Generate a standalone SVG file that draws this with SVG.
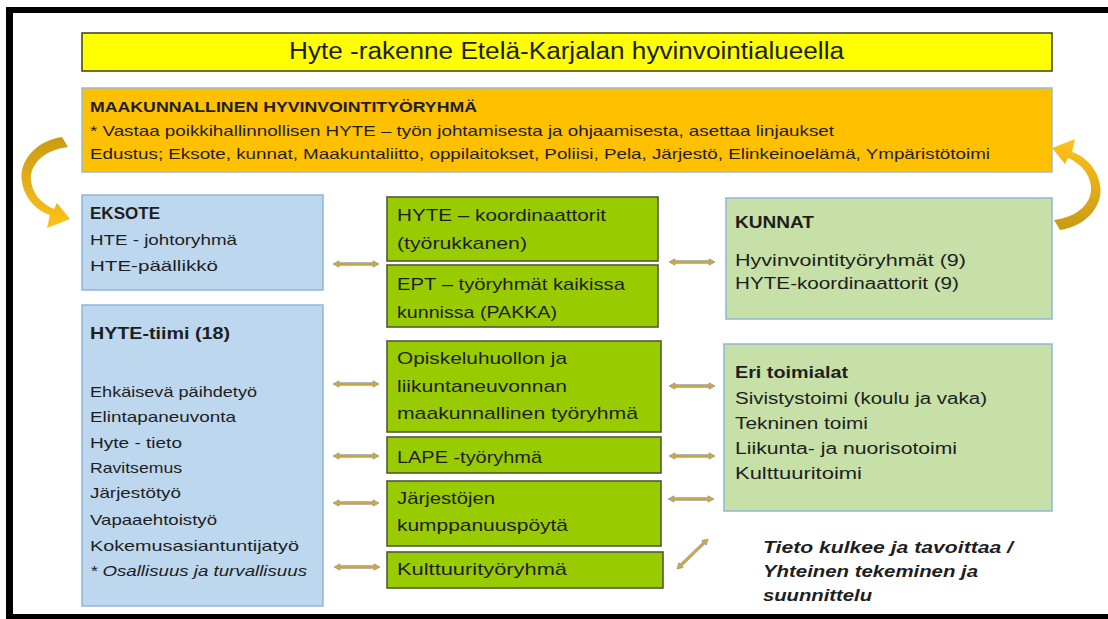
<svg xmlns="http://www.w3.org/2000/svg" xmlns:xlink="http://www.w3.org/1999/xlink" width="1108" height="619" viewBox="0 0 1108 619">
<style>
.t{font-family:"Liberation Sans",Arial,sans-serif;fill:#1e1e1e;}
.b{font-weight:bold;}
.i{font-style:italic;}
.blue{fill:#bdd7ee;stroke:#8fb6da;stroke-width:1.5;}
.lg{fill:#c6e0a8;stroke:#8fb6da;stroke-width:1.5;}
.gr{fill:#99cc00;stroke:#4f5a3a;stroke-width:1.6;}
.arr{fill:#d6a832;stroke:#8e9a9e;stroke-width:0.8;}
</style>
<defs>
<path id="dbl" class="arr" d="M-23,0 L-17,-3.2 L-17,-1.3 L17,-1.3 L17,-3.2 L23,0 L17,3.2 L17,1.3 L-17,1.3 L-17,3.2 Z"/>
<linearGradient id="cg" x1="0" y1="0" x2="0" y2="1">
<stop offset="0" stop-color="#c99a12"/>
<stop offset="1" stop-color="#ffc21a"/>
</linearGradient>
<path id="curve" fill="url(#cg)" d="M62,137 C38,140 18,160 22,182 C25,200 38,211 50,215 L47,228 L70,219 L57,203 L54,209 C42,204 32,194 31,180 C30,163 45,150 68,147 Z"/>
</defs>
<rect x="0" y="0" width="1108" height="619" fill="#ffffff"/>
<g id="frame" fill="#000">
<rect x="6" y="7" width="1102" height="6"/>
<rect x="6" y="7" width="7" height="612"/>
<rect x="6" y="614" width="1102" height="5"/>
</g>
<g id="title">
<rect x="82" y="33" width="970" height="38" fill="#ffff00" stroke="#3e3e20" stroke-width="1.5"/>
<text class="t" x="289" y="59" font-size="23" textLength="555" lengthAdjust="spacingAndGlyphs">Hyte -rakenne Etelä-Karjalan hyvinvointialueella</text>
</g>
<g id="maakunnallinen">
<rect x="82" y="88" width="970" height="84" fill="#ffc000" stroke="#9bbccc" stroke-width="1.5"/>
<text class="t b" x="90" y="112" font-size="15" textLength="387" lengthAdjust="spacingAndGlyphs">MAAKUNNALLINEN HYVINVOINTITYÖRYHMÄ</text>
<text class="t" x="90" y="136" font-size="15" textLength="744" lengthAdjust="spacingAndGlyphs">* Vastaa poikkihallinnollisen HYTE – työn johtamisesta ja ohjaamisesta, asettaa linjaukset</text>
<text class="t" x="90" y="159" font-size="15" textLength="900" lengthAdjust="spacingAndGlyphs">Edustus; Eksote, kunnat, Maakuntaliitto, oppilaitokset, Poliisi, Pela, Järjestö, Elinkeinoelämä, Ympäristötoimi</text>
</g>
<g id="eksote">
<rect class="blue" x="82" y="195" width="241" height="95"/>
<text class="t b" x="90" y="219" font-size="16" textLength="70" lengthAdjust="spacingAndGlyphs">EKSOTE</text>
<text class="t" x="90" y="245" font-size="15" textLength="147" lengthAdjust="spacingAndGlyphs">HTE - johtoryhmä</text>
<text class="t" x="90" y="271" font-size="15" textLength="128" lengthAdjust="spacingAndGlyphs">HTE-päällikkö</text>
</g>
<g id="hyte-tiimi">
<rect class="blue" x="82" y="305" width="241" height="301"/>
<text class="t b" x="90" y="339" font-size="16" textLength="140" lengthAdjust="spacingAndGlyphs">HYTE-tiimi (18)</text>
<text class="t" x="90" y="397" font-size="15" textLength="167" lengthAdjust="spacingAndGlyphs">Ehkäisevä päihdetyö</text>
<text class="t" x="90" y="422" font-size="15" textLength="146" lengthAdjust="spacingAndGlyphs">Elintapaneuvonta</text>
<text class="t" x="90" y="448" font-size="15" textLength="92" lengthAdjust="spacingAndGlyphs">Hyte - tieto</text>
<text class="t" x="90" y="473" font-size="15" textLength="92" lengthAdjust="spacingAndGlyphs">Ravitsemus</text>
<text class="t" x="90" y="498" font-size="15" textLength="91" lengthAdjust="spacingAndGlyphs">Järjestötyö</text>
<text class="t" x="90" y="525" font-size="15" textLength="127" lengthAdjust="spacingAndGlyphs">Vapaaehtoistyö</text>
<text class="t" x="90" y="551" font-size="15" textLength="209" lengthAdjust="spacingAndGlyphs">Kokemusasiantuntijatyö</text>
<text class="t i" x="90" y="576" font-size="15" textLength="217" lengthAdjust="spacingAndGlyphs">* Osallisuus ja turvallisuus</text>
</g>
<g id="koordinaattorit">
<rect class="gr" x="387" y="197" width="271" height="64"/>
<text class="t" x="397" y="221" font-size="17" textLength="209" lengthAdjust="spacingAndGlyphs">HYTE – koordinaattorit</text>
<text class="t" x="397" y="249" font-size="17" textLength="130" lengthAdjust="spacingAndGlyphs">(työrukkanen)</text>
</g>
<g id="ept">
<rect class="gr" x="387" y="265" width="271" height="62"/>
<text class="t" x="397" y="290" font-size="17" textLength="228" lengthAdjust="spacingAndGlyphs">EPT – työryhmät kaikissa</text>
<text class="t" x="397" y="318" font-size="17" textLength="160" lengthAdjust="spacingAndGlyphs">kunnissa (PAKKA)</text>
</g>
<g id="opiskeluhuolto">
<rect class="gr" x="387" y="341" width="274" height="91"/>
<text class="t" x="397" y="364" font-size="17" textLength="170" lengthAdjust="spacingAndGlyphs">Opiskeluhuollon ja</text>
<text class="t" x="397" y="392" font-size="17" textLength="170" lengthAdjust="spacingAndGlyphs">liikuntaneuvonnan</text>
<text class="t" x="397" y="419" font-size="17" textLength="241" lengthAdjust="spacingAndGlyphs">maakunnallinen työryhmä</text>
</g>
<g id="lape">
<rect class="gr" x="387" y="437" width="274" height="36"/>
<text class="t" x="397" y="463" font-size="17" textLength="145" lengthAdjust="spacingAndGlyphs">LAPE -työryhmä</text>
</g>
<g id="jarjestot">
<rect class="gr" x="387" y="481" width="274" height="65"/>
<text class="t" x="397" y="504" font-size="17" textLength="98" lengthAdjust="spacingAndGlyphs">Järjestöjen</text>
<text class="t" x="397" y="531" font-size="17" textLength="171" lengthAdjust="spacingAndGlyphs">kumppanuuspöytä</text>
</g>
<g id="kulttuuri">
<rect class="gr" x="387" y="552" width="276" height="36"/>
<text class="t" x="397" y="575" font-size="17" textLength="170" lengthAdjust="spacingAndGlyphs">Kulttuurityöryhmä</text>
</g>
<g id="kunnat">
<rect class="lg" x="726" y="198" width="326" height="121"/>
<text class="t b" x="735" y="228" font-size="16" textLength="79" lengthAdjust="spacingAndGlyphs">KUNNAT</text>
<text class="t" x="735" y="266" font-size="16" textLength="231" lengthAdjust="spacingAndGlyphs">Hyvinvointityöryhmät (9)</text>
<text class="t" x="735" y="289" font-size="16" textLength="224" lengthAdjust="spacingAndGlyphs">HYTE-koordinaattorit (9)</text>
</g>
<g id="toimialat">
<rect class="lg" x="724" y="344" width="328" height="167"/>
<text class="t b" x="735" y="378" font-size="16" textLength="113" lengthAdjust="spacingAndGlyphs">Eri toimialat</text>
<text class="t" x="735" y="404" font-size="16" textLength="252" lengthAdjust="spacingAndGlyphs">Sivistystoimi (koulu ja vaka)</text>
<text class="t" x="735" y="429" font-size="16" textLength="133" lengthAdjust="spacingAndGlyphs">Tekninen toimi</text>
<text class="t" x="735" y="454" font-size="16" textLength="222" lengthAdjust="spacingAndGlyphs">Liikunta- ja nuorisotoimi</text>
<text class="t" x="735" y="479" font-size="16" textLength="127" lengthAdjust="spacingAndGlyphs">Kulttuuritoimi</text>
</g>
<g id="connectors">
<use xlink:href="#curve"/>
<use xlink:href="#curve" transform="rotate(180 561 183.5)"/>
<use xlink:href="#dbl" transform="translate(356 264)"/>
<use xlink:href="#dbl" transform="translate(356 384)"/>
<use xlink:href="#dbl" transform="translate(356 456)"/>
<use xlink:href="#dbl" transform="translate(356 503)"/>
<use xlink:href="#dbl" transform="translate(357 567)"/>
<use xlink:href="#dbl" transform="translate(692 262)"/>
<use xlink:href="#dbl" transform="translate(692 386)"/>
<use xlink:href="#dbl" transform="translate(692 456)"/>
<use xlink:href="#dbl" transform="translate(691 499)"/>
<use xlink:href="#dbl" transform="translate(692.5 554) rotate(-44) scale(0.94 1)"/>
</g>
<g id="legend">
<text class="t b i" x="763" y="553" font-size="16" textLength="250" lengthAdjust="spacingAndGlyphs">Tieto kulkee ja tavoittaa  /</text>
<text class="t b i" x="763" y="577" font-size="16" textLength="215" lengthAdjust="spacingAndGlyphs">Yhteinen tekeminen ja</text>
<text class="t b i" x="763" y="601" font-size="16" textLength="109" lengthAdjust="spacingAndGlyphs">suunnittelu</text>
</g>
</svg>
